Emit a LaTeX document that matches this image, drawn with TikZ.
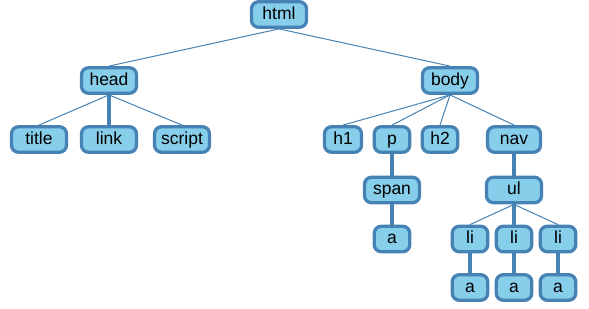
\documentclass[tikz,border=0pt]{standalone}
\usepackage{fontspec}
\setmainfont{Liberation Sans}
\definecolor{boxfill}{RGB}{135,206,235}
\definecolor{boxedge}{RGB}{70,130,180}

\begin{document}
\begin{tikzpicture}[x=1pt,y=-1pt,line cap=round,line join=round,
    tag/.style={draw=boxedge,fill=boxfill,line width=3.3pt,rounded corners=7pt,
      minimum width=55pt,minimum height=25.5pt,inner sep=0pt,
      text height=13pt,text depth=3.5pt,font=\fontsize{17.5}{20}\selectfont},
    shorttag/.style={tag,minimum width=35.5pt},
    branch/.style={draw=boxedge,line width=1pt},
    stem/.style={draw=boxedge,line width=3.3pt}]
        \useasboundingbox (0,0) rectangle (589,308);

        % Raiz y primer nivel
        \node[tag] (html) at (279,14.5) {html};
        \node[tag] (head) at (109,80.5) {head};
        \node[tag] (body) at (450,80.5) {body};

        % Hijos de head
        \node[tag] (title) at (39,139.5) {title};
        \node[tag] (link) at (109,139.5) {link};
        \node[tag] (script) at (182,139.5) {script};

        % Hijos de body
        \node[shorttag,minimum width=37pt] (h1) at (343,139.5) {h1};
        \node[shorttag] (p) at (392,139.5) {p};
        \node[shorttag] (h2) at (440,139.5) {h2};
        \node[tag,minimum width=53pt] (nav) at (514,139.5) {nav};

        % Niveles inferiores
        \node[tag] (span) at (392,190) {span};
        \node[shorttag] (spana) at (392,239) {a};
        \node[tag] (ul) at (514,190) {ul};
        \node[shorttag] (li1) at (470,239) {li};
        \node[shorttag] (li2) at (514,239) {li};
        \node[shorttag] (li3) at (558,239) {li};
        \node[shorttag] (lia1) at (470,287.5) {a};
        \node[shorttag] (lia2) at (514,287.5) {a};
        \node[shorttag] (lia3) at (558,287.5) {a};

        % Conexiones
        \draw[branch] (html.south) -- (head.north);
        \draw[branch] (html.south) -- (body.north);
        \draw[branch] (head.south) -- (title.north);
        \draw[stem] (head.south) -- (link.north);
        \draw[branch] (head.south) -- (script.north);
        \draw[branch] (body.south) -- (h1.north);
        \draw[branch] (body.south) -- (p.north);
        \draw[branch] (body.south) -- (h2.north);
        \draw[branch] (body.south) -- (nav.north);
        \draw[stem] (p.south) -- (span.north);
        \draw[stem] (span.south) -- (spana.north);
        \draw[stem] (nav.south) -- (ul.north);
        \draw[branch] (ul.south) -- (li1.north);
        \draw[stem] (ul.south) -- (li2.north);
        \draw[branch] (ul.south) -- (li3.north);
        \draw[stem] (li1.south) -- (lia1.north);
        \draw[stem] (li2.south) -- (lia2.north);
        \draw[stem] (li3.south) -- (lia3.north);

\end{tikzpicture}
\end{document}
